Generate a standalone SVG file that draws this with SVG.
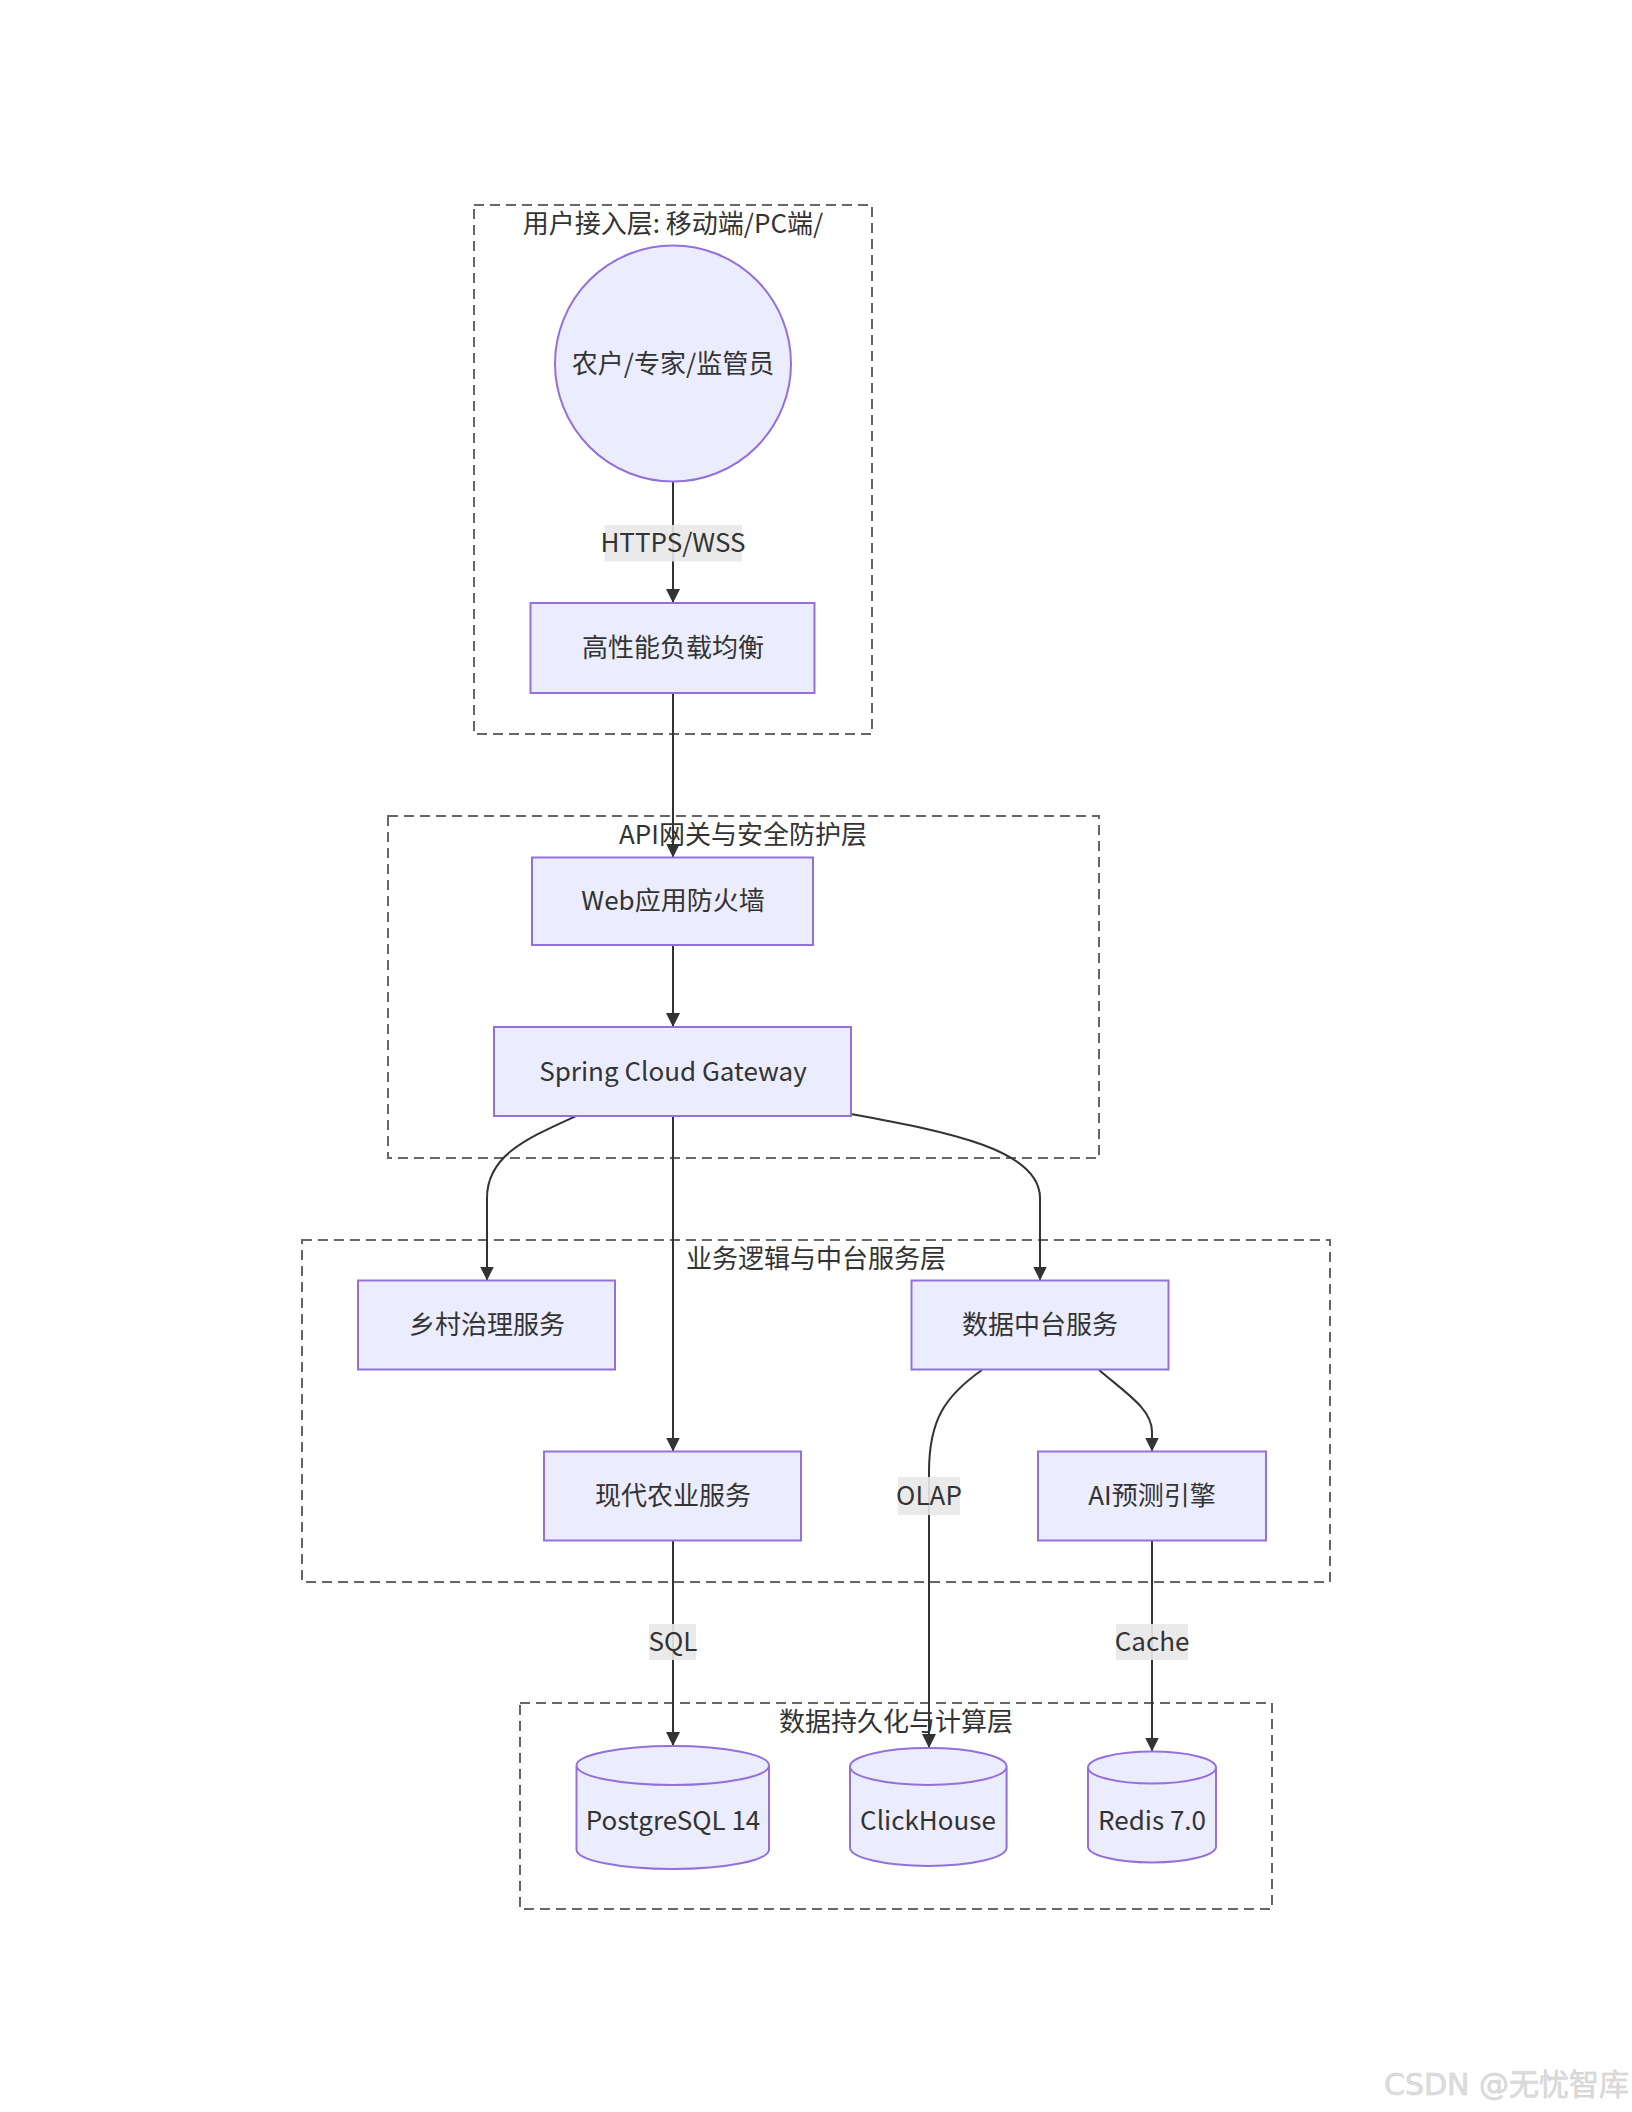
<svg xmlns="http://www.w3.org/2000/svg" width="1632" height="2112" viewBox="0 0 1632 2112">
<style>
text{font-family:"Noto Sans CJK SC","Noto Sans",sans-serif;font-size:26px;fill:#333;text-anchor:middle;dominant-baseline:central}
.cluster{fill:none;stroke:#666;stroke-width:2;stroke-dasharray:10 6}
.node{fill:#ECECFF;stroke:#9370DB;stroke-width:2}
.edge{fill:none;stroke:#333;stroke-width:2}
.lbl{fill:#e8e8e8;opacity:0.9}
.wm{font-family:"DejaVu Sans","Noto Sans CJK SC",sans-serif;font-size:30px;fill:#ddd;text-anchor:start;stroke:#ccc;stroke-width:0.5}
</style>
<defs>
<marker id="arr" markerUnits="userSpaceOnUse" markerWidth="14" markerHeight="14" refX="12" refY="6" orient="auto" viewBox="0 0 12 12">
<path d="M0,0 L12,6 L0,12 z" fill="#333"/>
</marker>
</defs>
<rect width="1632" height="2112" fill="#fff"/>
<g id="clusters">
<g id="cluster-user"><rect class="cluster" x="474" y="205" width="398" height="529"/><text x="673" y="221">用户接入层: 移动端/PC端/</text></g>
<g id="cluster-api"><rect class="cluster" x="388" y="816" width="711" height="342"/><text x="743" y="832">API网关与安全防护层</text></g>
<g id="cluster-biz"><rect class="cluster" x="302" y="1240" width="1028" height="342"/><text x="816" y="1256">业务逻辑与中台服务层</text></g>
<g id="cluster-data"><rect class="cluster" x="520" y="1703" width="752" height="206"/><text x="896" y="1719">数据持久化与计算层</text></g>
</g>
<g id="connectors">
<path class="edge" d="M673,481.5 L673,603" marker-end="url(#arr)"/>
<path class="edge" d="M673,693 L673,857.5" marker-end="url(#arr)"/>
<path class="edge" d="M673,945 L673,1027" marker-end="url(#arr)"/>
<path class="edge" d="M576,1116 C528,1138 487,1155 487,1198 L487,1280.5" marker-end="url(#arr)"/>
<path class="edge" d="M673,1116 L673,1451.5" marker-end="url(#arr)"/>
<path class="edge" d="M851,1114 C950,1132 1040,1150 1040,1198 L1040,1280.5" marker-end="url(#arr)"/>
<path class="edge" d="M982,1370 C945,1396 929,1420 929,1472 L929,1748" marker-end="url(#arr)"/>
<path class="edge" d="M1099,1370 C1130,1396 1152,1410 1152,1432 L1152,1451.5" marker-end="url(#arr)"/>
<path class="edge" d="M673,1540 L673,1746" marker-end="url(#arr)"/>
<path class="edge" d="M1152,1540 L1152,1751.5" marker-end="url(#arr)"/>
<g id="edge-labels">
<rect class="lbl" x="604.5" y="525" width="137.5" height="36.5"/><text x="673" y="540.5">HTTPS/WSS</text>
<rect class="lbl" x="898" y="1477" width="62" height="38"/><text x="929" y="1493.5">OLAP</text>
<rect class="lbl" x="649" y="1624" width="47" height="36"/><text x="673" y="1639.5">SQL</text>
<rect class="lbl" x="1116" y="1624" width="72" height="36"/><text x="1152" y="1639.5">Cache</text>
</g>
</g>
<g id="node-user"><circle class="node" cx="673" cy="363.5" r="118"/><text x="673" y="361">农户/专家/监管员</text></g>
<g id="node-lb"><rect class="node" x="530.5" y="603" width="284" height="90"/><text x="673" y="645.5">高性能负载均衡</text></g>
<g id="node-waf"><rect class="node" x="532" y="857.5" width="281" height="87.5"/><text x="673" y="898.5">Web应用防火墙</text></g>
<g id="node-gw"><rect class="node" x="494" y="1027" width="357" height="89"/><text x="673" y="1069.5">Spring Cloud Gateway</text></g>
<g id="node-rural"><rect class="node" x="358" y="1280.5" width="257" height="89"/><text x="487" y="1322.5">乡村治理服务</text></g>
<g id="node-dp"><rect class="node" x="911.5" y="1280.5" width="257" height="89"/><text x="1040" y="1322.5">数据中台服务</text></g>
<g id="node-agri"><rect class="node" x="544" y="1451.5" width="257" height="89"/><text x="673" y="1493.5">现代农业服务</text></g>
<g id="node-ai"><rect class="node" x="1038" y="1451.5" width="228" height="89"/><text x="1152" y="1493.5">AI预测引擎</text></g>
<g id="node-pg"><path class="node" d="M576.5,1765.5 a96.25,19.5 0 0 0 192.5,0 a96.25,19.5 0 0 0 -192.5,0 l0,84 a96.25,19.5 0 0 0 192.5,0 l0,-84"/><text x="673" y="1818.5">PostgreSQL 14</text></g>
<g id="node-ch"><path class="node" d="M850,1766.5 a78.3,18.5 0 0 0 156.6,0 a78.3,18.5 0 0 0 -156.6,0 l0,81 a78.3,18.5 0 0 0 156.6,0 l0,-81"/><text x="928" y="1818.5">ClickHouse</text></g>
<g id="node-redis"><path class="node" d="M1088,1767.5 a64,16 0 0 0 128,0 a64,16 0 0 0 -128,0 l0,79 a64,16 0 0 0 128,0 l0,-79"/><text x="1152" y="1818.5">Redis 7.0</text></g>
<text class="wm" x="1384" y="2084">CSDN @无忧智库</text>
</svg>
